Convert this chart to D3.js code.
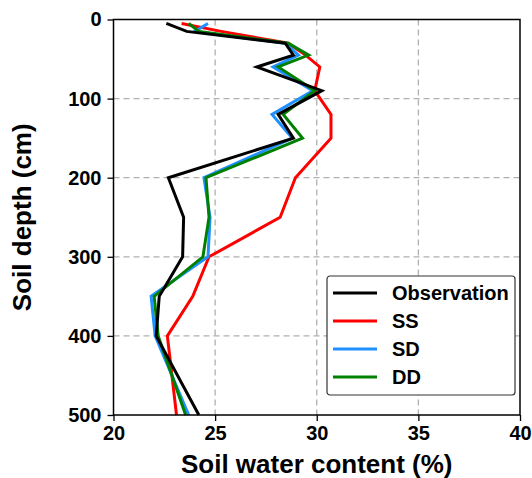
<!DOCTYPE html>
<meta charset="utf-8">

<head>
  <script src="https://d3js.org/d3.v7.min.js"></script>
</head>
<style>
  body { margin: 0; background: #fff; }
  text { font-family: "Liberation Sans", Arial, sans-serif; font-weight: bold; }
  .grid line { stroke: #b0b0b0; stroke-width: 1.3; stroke-dasharray: 6,4; }
</style>

<body>
  <script>
    // depth of each measurement (cm)
    var depths = [5, 15, 30, 45, 60, 90, 120, 150, 200, 250, 300, 350, 400, 500];

    // soil water content (%) at each depth
    var observation = [22.6, 23.6, 28.45, 28.85, 27.05, 30.25, 28.1, 28.85, 22.7, 23.45, 23.4, 22.25, 22.1, 24.2];
    var ss = [23.35, 25.3, 28.6, 29.45, 30.15, 29.9, 30.7, 30.7, 28.95, 28.2, 24.7, 23.9, 22.65, 23.1];
    var sd = [24.65, 24.0, 28.45, 29.1, 27.85, 29.8, 27.8, 28.8, 24.45, 24.75, 24.65, 21.85, 22.05, 23.7];
    var dd = [23.7, 24.2, 28.6, 29.6, 28.1, 29.9, 28.35, 29.3, 24.55, 24.7, 24.4, 22.0, 22.2, 23.55];

    var seriesNames = ["Observation", "SS", "SD", "DD"];
    var seriesColors = ["#000000", "#ff0000", "#1e90ff", "#008000"];
    var xTicks = [20, 25, 30, 35, 40];
    var yTicks = [0, 100, 200, 300, 400, 500];

    var W = 532, H = 478;
    var m = { left: 113.5, top: 19.5, right: 12, bottom: 63 };
    var w = W - m.left - m.right, h = H - m.top - m.bottom;

    var svg = d3.select("body").append("svg")
      .attr("width", W)
      .attr("height", H);

    var x = d3.scaleLinear().domain([20, 40]).range([0, w]);
    var y = d3.scaleLinear().domain([0, 500]).range([0, h]);

    var g = svg.append("g").attr("transform", "translate(" + m.left + "," + m.top + ")");

    // grid
    var grid = g.append("g").attr("class", "grid");
    grid.selectAll(".gx").data(xTicks.slice(1, -1)).enter().append("line")
      .attr("x1", d => x(d)).attr("x2", d => x(d))
      .attr("y1", 0).attr("y2", h);
    grid.selectAll(".gy").data(yTicks.slice(1, -1)).enter().append("line")
      .attr("y1", d => y(d)).attr("y2", d => y(d))
      .attr("x1", 0).attr("x2", w);

    // lines (observation drawn last so it sits on top)
    var series = [
      { name: "SS", vals: ss, color: seriesColors[1] },
      { name: "SD", vals: sd, color: seriesColors[2] },
      { name: "DD", vals: dd, color: seriesColors[3] },
      { name: "Observation", vals: observation, color: seriesColors[0] }
    ];

    var line = d3.line()
      .x(d => x(d[0]))
      .y(d => y(d[1]));

    g.selectAll(".series").data(series).enter().append("path")
      .attr("fill", "none")
      .attr("stroke", d => d.color)
      .attr("stroke-width", 3)
      .attr("stroke-linejoin", "miter")
      .attr("d", d => line(d.vals.map((v, i) => [v, depths[i]])));

    // axes
    var xAxis = d3.axisBottom(x).tickValues(xTicks).tickSize(6).tickPadding(5);
    var yAxis = d3.axisLeft(y).tickValues(yTicks).tickSize(6).tickPadding(6);

    var gx = g.append("g").attr("transform", "translate(0," + h + ")").call(xAxis);
    var gy = g.append("g").call(yAxis);
    [gx, gy].forEach(function (a) {
      a.select(".domain").remove();
      a.selectAll(".tick line").attr("stroke", "#000").attr("stroke-width", 1.3);
      a.selectAll(".tick text").attr("fill", "#000").style("font-size", "20px");
    });

    // frame
    g.append("rect")
      .attr("width", w).attr("height", h)
      .attr("fill", "none").attr("stroke", "#000").attr("stroke-width", 1.5);

    // axis titles
    svg.append("text")
      .attr("x", m.left + w / 2).attr("y", 473)
      .attr("text-anchor", "middle")
      .style("font-size", "26px")
      .text("Soil water content (%)");

    svg.append("text")
      .attr("transform", "translate(31," + (m.top + h / 2) + ") rotate(-90)")
      .attr("text-anchor", "middle")
      .style("font-size", "26px")
      .text("Soil depth (cm)");

    // legend
    var lg = svg.append("g").attr("transform", "translate(327,276)");
    lg.append("rect")
      .attr("width", 188).attr("height", 119).attr("rx", 3)
      .attr("fill", "#fff").attr("stroke", "#333").attr("stroke-width", 1.2);
    var items = lg.selectAll(".item").data(seriesNames).enter().append("g")
      .attr("transform", (d, i) => "translate(0," + (17 + i * 28) + ")");
    items.append("line")
      .attr("x1", 6).attr("x2", 50)
      .attr("stroke", (d, i) => seriesColors[i])
      .attr("stroke-width", 3);
    items.append("text")
      .attr("x", 65).attr("dy", "0.35em")
      .style("font-size", "20px")
      .text(d => d);
  </script>
